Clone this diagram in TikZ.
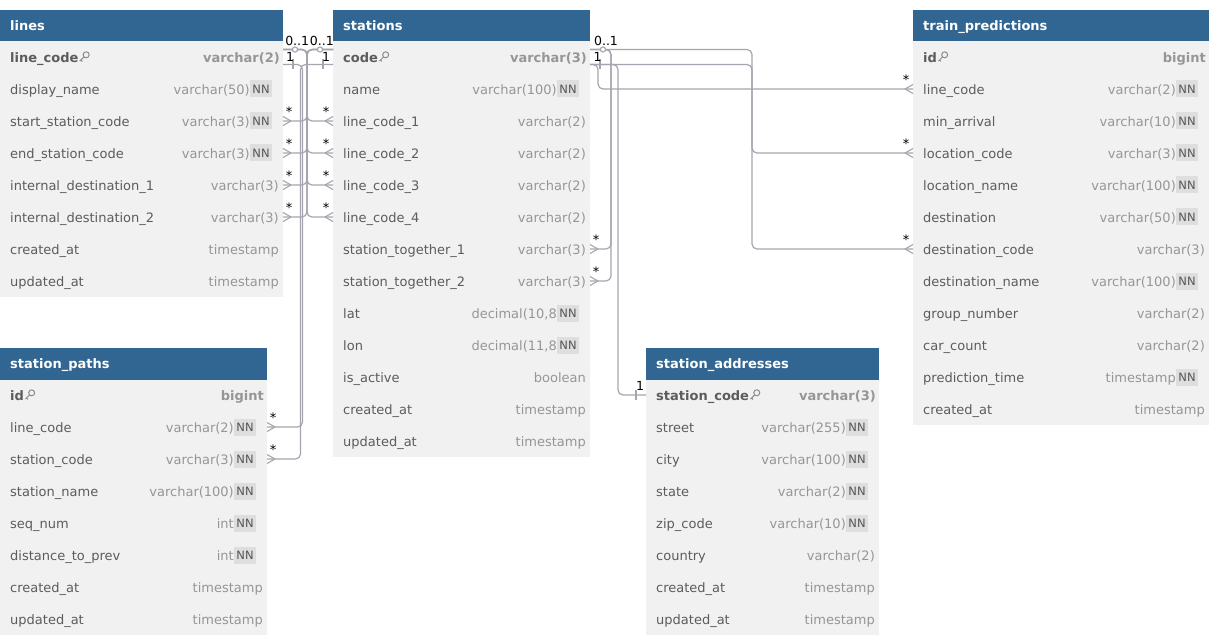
\documentclass[tikz,border=0pt]{standalone}
\usepackage{fontspec}
\setmainfont{DejaVu Sans}
\usetikzlibrary{calc}

\definecolor{hdr}{RGB}{49,102,146}
\definecolor{bodybg}{RGB}{241,241,241}
\definecolor{fieldcol}{RGB}{92,92,92}
\definecolor{typecol}{RGB}{150,150,150}
\definecolor{nnbg}{RGB}{222,222,222}
\definecolor{nncol}{RGB}{85,85,85}
\definecolor{wire}{RGB}{165,165,175}
\definecolor{keycol}{RGB}{140,140,140}

\tikzset{
  hdrtext/.style={anchor=west, text=white, inner sep=0, text height=9.5pt, text depth=2.5pt,
    yshift=-1.8pt, font=\bfseries\fontsize{13}{15}\selectfont},
  fieldname/.style={anchor=west, text=fieldcol, inner sep=0, text height=9.5pt, text depth=2.5pt,
    yshift=-1.8pt, font=\fontsize{13}{15}\selectfont},
  pkname/.style={fieldname, font=\bfseries\fontsize{13}{15}\selectfont},
  fieldtype/.style={anchor=east, text=typecol, inner sep=0, text height=9.5pt, text depth=2.5pt,
    yshift=-1.8pt, font=\fontsize{13}{15}\selectfont},
  pktype/.style={fieldtype, font=\bfseries\fontsize{13}{15}\selectfont},
  nnbadge/.style={fill=nnbg, text=nncol, inner sep=0, minimum width=22, minimum height=17,
    font=\fontsize{11.5}{13}\selectfont},
  wire/.style={draw=wire, line width=1.2, rounded corners=5},
  foot/.style={draw=wire, line width=1.1},
  card/.style={text=black, inner sep=0, font=\fontsize{12.5}{14}\selectfont},
  starmark/.style={text=black, inner sep=0, anchor=north, font=\fontsize{13}{15}\selectfont},
  optring/.style={draw=wire, fill=white, line width=1.1},
}

% small key glyph placed just after a primary-key field name
\newcommand{\keyicon}[1]{%
  \begin{scope}[shift={(#1.east)}]
    \draw[keycol, line width=1] (7.5,-4) circle (3);
    \draw[keycol, line width=1] (5.4,-1.9) -- (1.2,2.3) (2.3,1.2) -- (3.8,2.7);
  \end{scope}}

% table: #1 id, #2 left, #3 right, #4 top, #5 row count, #6 title, #7 fields name/type/flag
% flag: 0 plain, 1 not null, 2 primary key
\newcommand{\erdtable}[7]{%
  \fill[bodybg] (#2,#4+31) rectangle (#3,#4+31+32*#5);
  \fill[hdr] (#2,#4) rectangle (#3,#4+31.5);
  \node[hdrtext] (#1-title) at (#2+10,#4+15.5) {#6};
  \foreach \fname/\ftype/\fflag [count=\i] in {#7} {
    \pgfmathsetmacro\ry{#4+15+32*\i}
    \coordinate (#1-\i-l) at (#2,\ry);
    \coordinate (#1-\i-r) at (#3,\ry);
    \ifnum\fflag=2
      \node[pkname] (#1-\i-n) at (#2+10,\ry) {\fname};
      \keyicon{#1-\i-n}
      \node[pktype] (#1-\i-t) at (#3-3,\ry) {\ftype};
    \else
      \node[fieldname] (#1-\i-n) at (#2+10,\ry) {\fname};
      \ifnum\fflag=1
        \node[fieldtype] (#1-\i-t) at (#3-33,\ry) {\ftype};
        \node[nnbadge] (#1-\i-nn) at (#3-22,\ry) {NN};
      \else
        \node[fieldtype] (#1-\i-t) at (#3-4,\ry) {\ftype};
      \fi
    \fi
  }}

% crow's foot: table lies to the right of the point / to the left of the point
\newcommand{\manyin}[1]{\draw[foot] ($(#1)+(-8,0)$) -- ($(#1)+(0,-4.5)$) ($(#1)+(-8,0)$) -- ($(#1)+(0,4.5)$);}
\newcommand{\manyout}[1]{\draw[foot] ($(#1)+(8,0)$) -- ($(#1)+(0,-4.5)$) ($(#1)+(8,0)$) -- ($(#1)+(0,4.5)$);}

\begin{document}
\begin{tikzpicture}[x=1pt, y=-1pt]
\useasboundingbox (0,0) rectangle (1214,636);
\fill[white] (0,0) rectangle (1214,636);

\erdtable{L}{0}{283}{10}{8}{lines}{%
  line\_code/varchar(2)/2,
  display\_name/varchar(50)/1,
  start\_station\_code/varchar(3)/1,
  end\_station\_code/varchar(3)/1,
  internal\_destination\_1/varchar(3)/0,
  internal\_destination\_2/varchar(3)/0,
  created\_at/timestamp/0,
  updated\_at/timestamp/0}

\erdtable{S}{333}{590}{10}{13}{stations}{%
  code/varchar(3)/2,
  name/varchar(100)/1,
  line\_code\_1/varchar(2)/0,
  line\_code\_2/varchar(2)/0,
  line\_code\_3/varchar(2)/0,
  line\_code\_4/varchar(2)/0,
  station\_together\_1/varchar(3)/0,
  station\_together\_2/varchar(3)/0,
  lat/{decimal(10,8}/1,
  lon/{decimal(11,8}/1,
  is\_active/boolean/0,
  created\_at/timestamp/0,
  updated\_at/timestamp/0}

\erdtable{T}{913}{1209}{10}{12}{train\_predictions}{%
  id/bigint/2,
  line\_code/varchar(2)/1,
  min\_arrival/varchar(10)/1,
  location\_code/varchar(3)/1,
  location\_name/varchar(100)/1,
  destination/varchar(50)/1,
  destination\_code/varchar(3)/0,
  destination\_name/varchar(100)/1,
  group\_number/varchar(2)/0,
  car\_count/varchar(2)/0,
  prediction\_time/timestamp/1,
  created\_at/timestamp/0}

\erdtable{P}{0}{267}{348}{8}{station\_paths}{%
  id/bigint/2,
  line\_code/varchar(2)/1,
  station\_code/varchar(3)/1,
  station\_name/varchar(100)/1,
  seq\_num/int/1,
  distance\_to\_prev/int/1,
  created\_at/timestamp/0,
  updated\_at/timestamp/0}

\erdtable{A}{646}{879}{348}{8}{station\_addresses}{%
  station\_code/varchar(3)/2,
  street/varchar(255)/1,
  city/varchar(100)/1,
  state/varchar(2)/1,
  zip\_code/varchar(10)/1,
  country/varchar(2)/0,
  created\_at/timestamp/0,
  updated\_at/timestamp/0}

% lines <-> stations
\foreach \k in {3,4,5,6} {
  \draw[wire] ($(L-1-r)+(0,-7.5)$) -- ++(24,0) |- (S-\k-l);
  \draw[wire] ($(S-1-l)+(0,-7.5)$) -- ++(-26,0) |- (L-\k-r);
  \manyin{S-\k-l}
  \manyout{L-\k-r}
  \node[starmark] (sS\k) at ($(S-\k-l)+(-7,-14.5)$) {*};
  \node[starmark] (sL\k) at ($(L-\k-r)+(6,-14.5)$) {*};
}
% station_paths -> lines / stations
\draw[wire] (P-2-r) -- ++(35.5,0) |- ($(L-1-r)+(0,7.5)$);
\draw[wire] (P-3-r) -- ++(33.5,0) |- ($(S-1-l)+(0,7.5)$);
\manyout{P-2-r}
\manyout{P-3-r}
\node[starmark] (sP2) at ($(P-2-r)+(6,-14.5)$) {*};
\node[starmark] (sP3) at ($(P-3-r)+(6,-14.5)$) {*};

% stations self references and outgoing references
\draw[wire] ($(S-1-r)+(0,-7.5)$) -- ++(21,0) |- (S-7-r);
\draw[wire] ($(S-1-r)+(0,-7.5)$) -- ++(21,0) |- (S-8-r);
\draw[wire] ($(S-1-r)+(0,-7.5)$) -- ++(162,0) |- (T-7-l);
\draw[wire] ($(S-1-r)+(0,7.5)$) -- ++(162,0) |- (T-4-l);
\draw[wire] ($(S-1-r)+(0,7.5)$) -- ++(8,0) |- (T-2-l);
\draw[wire] ($(S-1-r)+(0,7.5)$) -- ++(28,0) |- (A-1-l);
\manyout{S-7-r}
\manyout{S-8-r}
\manyin{T-2-l}
\manyin{T-4-l}
\manyin{T-7-l}
\node[starmark] (sS7) at ($(S-7-r)+(6,-14.5)$) {*};
\node[starmark] (sS8) at ($(S-8-r)+(6,-14.5)$) {*};
\node[starmark] (sT2) at ($(T-2-l)+(-7,-14.5)$) {*};
\node[starmark] (sT4) at ($(T-4-l)+(-7,-14.5)$) {*};
\node[starmark] (sT7) at ($(T-7-l)+(-7,-14.5)$) {*};

% one-side bars
\draw[foot] ($(L-1-r)+(10,2.5)$) -- ++(0,10);
\draw[foot] ($(S-1-l)+(-10,2.5)$) -- ++(0,10);
\draw[foot] ($(S-1-r)+(10,2.5)$) -- ++(0,10);
\draw[foot] ($(A-1-l)+(-10,-5)$) -- ++(0,10);

% optional rings
\draw[optring] ($(L-1-r)+(12,-7.5)$) circle (2.6);
\draw[optring] ($(S-1-l)+(-13,-7.5)$) circle (2.6);
\draw[optring] ($(S-1-r)+(13,-7.5)$) circle (2.6);

% cardinality labels
\node[card] (cL0) at ($(L-1-r)+(14.2,-16.5)$) {0..1};
\node[card] (cS0) at ($(S-1-l)+(-11.2,-16.5)$) {0..1};
\node[card] (cL1) at ($(L-1-r)+(7,0)$) {1};
\node[card] (cS1) at ($(S-1-l)+(-7,0)$) {1};
\node[card] (cR0) at ($(S-1-r)+(16,-16.5)$) {0..1};
\node[card] (cR1) at ($(S-1-r)+(7.5,0)$) {1};
\node[card] (cA1) at ($(A-1-l)+(-6,-9)$) {1};
\end{tikzpicture}
\end{document}
